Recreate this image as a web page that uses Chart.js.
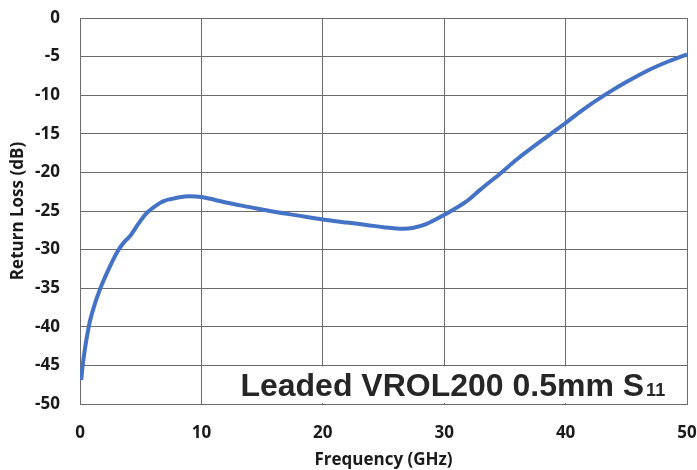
<!DOCTYPE html>
<html>
<head>
<meta charset="utf-8">
<script src="https://cdn.jsdelivr.net/npm/chart.js@4.4.1/dist/chart.umd.min.js"></script>
<style>
  html, body { margin: 0; padding: 0; background: #fff; }
</style>
</head>
<body>
<canvas id="chart" width="697" height="470"></canvas>
<script>
// S11 curve
const freqGHz = [0.1, 0.22, 0.45, 0.72, 0.86, 1.25, 1.68, 2.4, 3.1, 3.65, 4.15, 4.83, 5.2, 5.6, 6.0, 6.6, 7.0, 7.5, 8.0, 9.0, 10.0, 12.0, 14.0, 16.0, 18.0, 20.0, 22.0, 23.6, 25.0, 26.6, 27.4, 28.5, 30.0, 31.8, 33.0, 34.5, 36.0, 38.7, 40.0, 41.5, 43.3, 45.0, 46.9, 48.5, 50.0];
const returnLossDb = [-46.9, -45.0, -42.4, -40.0, -39.0, -36.9, -35.0, -32.4, -30.2, -29.0, -28.2, -26.6, -25.8, -25.1, -24.6, -23.95, -23.65, -23.45, -23.28, -23.1, -23.2, -23.9, -24.5, -25.1, -25.6, -26.1, -26.5, -26.8, -27.1, -27.3, -27.2, -26.7, -25.5, -23.8, -22.2, -20.3, -18.3, -15.1, -13.6, -11.8, -9.9, -8.3, -6.7, -5.6, -4.7];

const xTicks = [0, 10, 20, 30, 40, 50];
const yTicks = [0, -5, -10, -15, -20, -25, -30, -35, -40, -45, -50];

const chartLabel = 'Leaded VROL200 0.5mm S';
const chartLabelSub = '11';

const FONT = "'Open Sans', 'DejaVu Sans', sans-serif";
const GRID = '#6b6b6b';
const TEXT = '#1a1a1a';

// white box with the part name, bottom right of the plot
const labelBox = {
  id: 'labelBox',
  afterDatasetsDraw(chart) {
    const { ctx, chartArea, scales: { x, y } } = chart;
    const left = x.getPixelForValue(10) + 1;
    const top = y.getPixelForValue(-45) + 1;
    ctx.save();
    ctx.fillStyle = '#fff';
    ctx.fillRect(left, top, chartArea.right - left - 1, chartArea.bottom - top - 1);
    ctx.fillStyle = '#262626';
    ctx.textBaseline = 'alphabetic';
    ctx.font = "bold 32px 'Liberation Sans', Arial, sans-serif";
    const tx = left + 38;
    const ty = chartArea.bottom - 8;
    ctx.fillText(chartLabel, tx, ty);
    const w = ctx.measureText(chartLabel).width;
    ctx.font = "bold 18px 'Liberation Sans', Arial, sans-serif";
    ctx.fillText(chartLabelSub, tx + w + 2, ty);
    ctx.restore();
  }
};

new Chart(document.getElementById('chart'), {
  type: 'line',
  data: {
    datasets: [{
      data: freqGHz.map((f, i) => ({ x: f, y: returnLossDb[i] })),
      borderColor: '#4472C4',
      borderWidth: 4,
      pointRadius: 0,
      cubicInterpolationMode: 'monotone',
      fill: false,
    }],
  },
  options: {
    responsive: false,
    animation: false,
    devicePixelRatio: 1,
    layout: { padding: { top: 18, right: 10, left: 0, bottom: 0 } },
    plugins: {
      legend: { display: false },
      tooltip: { enabled: false },
    },
    scales: {
      x: {
        type: 'linear',
        min: 0,
        max: 50,
        afterBuildTicks: (s) => { s.ticks = xTicks.map((v) => ({ value: v })); },
        afterFit: (s) => {
          s.height = 66;
          s.paddingLeft = 0;
          s.paddingRight = 0;
        },
        grid: { color: GRID, drawTicks: false },
        border: { color: GRID },
        ticks: {
          padding: 19,
          maxRotation: 0,
          color: TEXT,
          font: { family: FONT, size: 17, weight: 'bold' },
        },
        title: {
          display: true,
          text: 'Frequency (GHz)',
          color: TEXT,
          padding: { top: 0, bottom: 0 },
          font: { family: FONT, size: 17, weight: 'bold' },
        },
      },
      y: {
        min: -50,
        max: 0,
        afterBuildTicks: (s) => { s.ticks = yTicks.map((v) => ({ value: v })); },
        afterFit: (s) => {
          s.width = 80;
          s.paddingTop = 0;
          s.paddingBottom = 0;
        },
        grid: { color: GRID, drawTicks: false },
        border: { color: GRID },
        ticks: {
          padding: 20,
          color: TEXT,
          font: { family: FONT, size: 17, weight: 'bold' },
        },
        title: {
          display: true,
          text: 'Return Loss (dB)',
          color: TEXT,
          padding: { top: 8, bottom: 0 },
          font: { family: FONT, size: 17, weight: 'bold' },
        },
      },
    },
  },
  plugins: [labelBox],
});
</script>
</body>
</html>
